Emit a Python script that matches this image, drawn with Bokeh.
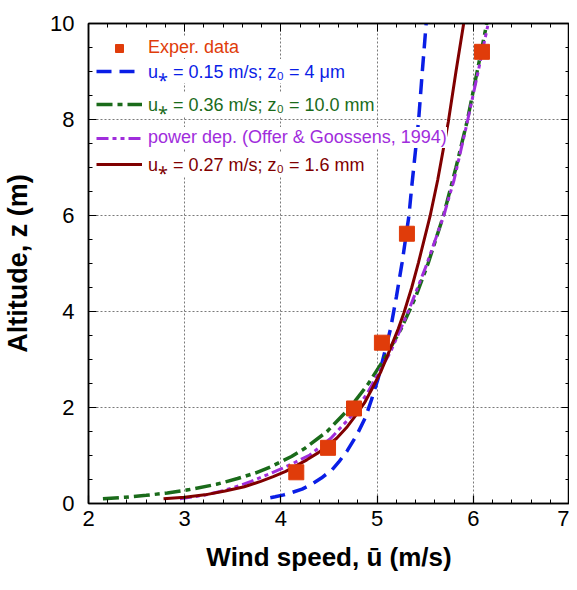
from bokeh.plotting import figure
from bokeh.models import (Legend, LegendItem, LinearAxis, Range1d,
                          SingleIntervalTicker)
from bokeh.embed import file_html
from bokeh.resources import INLINE

# ---- data ----
exp_u = [4.16, 4.49, 4.76, 5.05, 5.31, 6.09]
exp_z = [0.65, 1.16, 1.98, 3.35, 5.62, 9.41]

blue_z = [0.12, 0.14, 0.18, 0.22, 0.30, 0.40, 0.53, 0.70, 0.86, 1.10, 1.43, 1.80,
          2.15, 2.60, 3.00, 3.64, 4.30, 5.02, 5.98, 6.60, 7.95, 9.00, 10.0]
blue_u = [3.89, 3.94, 4.03, 4.10, 4.22, 4.32, 4.42, 4.53, 4.60, 4.69, 4.79, 4.88,
          4.94, 5.01, 5.06, 5.14, 5.20, 5.26, 5.33, 5.36, 5.43, 5.47, 5.51]

green_z = [0.10, 0.13, 0.17, 0.22, 0.29, 0.40, 0.52, 0.64, 0.77, 0.98, 1.15, 1.50,
           2.00, 2.50, 3.00, 3.64, 4.30, 5.00, 6.00, 7.00, 8.00, 9.00, 10.0]
green_u = [2.15, 2.38, 2.60, 2.82, 3.05, 3.33, 3.55, 3.74, 3.90, 4.11, 4.25, 4.48,
           4.72, 4.91, 5.07, 5.25, 5.40, 5.53, 5.69, 5.82, 5.94, 6.04, 6.14]

power_z = [0.10, 0.14, 0.18, 0.25, 0.34, 0.46, 0.60, 0.72, 0.84, 1.01, 1.36,
           1.84, 2.30, 2.74, 3.16, 3.98, 4.95, 5.98, 6.74, 7.88, 8.90, 9.95]
power_u = [2.95, 3.10, 3.22, 3.37, 3.52, 3.69, 3.86, 4.00, 4.13, 4.30, 4.52,
           4.74, 4.90, 5.02, 5.14, 5.32, 5.51, 5.69, 5.80, 5.93, 6.04, 6.15]

brown_z = [0.10, 0.13, 0.18, 0.26, 0.35, 0.46, 0.56, 0.67, 0.80, 0.91, 1.06, 1.20,
           1.36, 1.60, 1.84, 2.10, 2.40, 2.75, 3.09, 3.64, 3.98, 4.50, 5.02, 5.98,
           6.74, 7.95, 9.00, 10.0]
brown_u = [2.78, 3.00, 3.21, 3.42, 3.62, 3.79, 3.92, 4.05, 4.17, 4.27, 4.39, 4.48,
           4.58, 4.69, 4.78, 4.87, 4.95, 5.04, 5.11, 5.22, 5.28, 5.36, 5.43, 5.55,
           5.63, 5.74, 5.82, 5.90]

labels = ["Exper. data",
          "u\u204e = 0.15 m/s; z\u2080 = 4 \u03bcm",
          "u\u204e = 0.36 m/s; z\u2080 = 10.0 mm",
          "power dep. (Offer & Goossens, 1994)",
          "u\u204e = 0.27 m/s; z\u2080 = 1.6 mm"]

EXP_C = "#E03C0A"
BLUE_C = "#0A1EE6"
GREEN_C = "#1A6B1A"
PURPLE_C = "#A02DDC"
BROWN_C = "#800000"
FONT = "Liberation Sans"

p = figure(width=569, height=574,
           x_range=Range1d(2, 7), y_range=Range1d(0, 10),
           output_backend="svg", toolbar_location=None,
           min_border_left=84, min_border_right=0,
           min_border_top=23, min_border_bottom=60)

xt = SingleIntervalTicker(interval=1, num_minor_ticks=5)
yt = SingleIntervalTicker(interval=2, num_minor_ticks=4)

for ax, t in ((p.xaxis[0], xt), (p.yaxis[0], yt)):
    ax.ticker = t
    ax.major_tick_in = 8
    ax.major_tick_out = 0
    ax.minor_tick_in = 4
    ax.minor_tick_out = 0
    ax.axis_line_width = 1.5
    ax.major_tick_line_width = 1.2
    ax.major_label_text_font = FONT
    ax.major_label_text_font_size = "22px"
    ax.major_label_text_color = "black"
    ax.axis_label_text_font = FONT
    ax.axis_label_text_font_style = "bold"
    ax.axis_label_text_color = "black"

p.xaxis.axis_label = "Wind speed, \u016b (m/s)"
p.xaxis.axis_label_text_font_size = "26px"
p.xaxis.major_label_standoff = 7
p.xaxis.axis_label_standoff = 13
p.yaxis.axis_label = "Altitude, z (m)"
p.yaxis.axis_label_text_font_size = "27px"
p.yaxis.major_label_standoff = 14
p.yaxis.axis_label_standoff = 14

for loc, t in (("above", xt), ("right", yt)):
    ax = LinearAxis(ticker=t, major_tick_in=8, major_tick_out=0,
                    minor_tick_in=4, minor_tick_out=0, axis_line_width=1.5,
                    major_label_text_font_size="0px", major_label_standoff=0,
                    axis_label_standoff=0)
    p.add_layout(ax, loc)

p.xgrid.ticker = xt
p.ygrid.ticker = yt
for g in (p.xgrid, p.ygrid):
    g.grid_line_color = "#7a7a7a"
    g.grid_line_dash = "2 2"
    g.grid_line_width = 1

p.outline_line_color = "black"
p.outline_line_width = 1.5

r_blue = p.line(blue_u, blue_z, line_color=BLUE_C, line_width=3.5, line_dash="15 8")
r_green = p.line(green_u, green_z, line_color=GREEN_C, line_width=3.5, line_dash="16 5 5 5")
r_power = p.line(power_u, power_z, line_color=PURPLE_C, line_width=3, line_dash="12 4 4 4 4 4")
r_brown = p.line(brown_u, brown_z, line_color=BROWN_C, line_width=3)
r_exp = p.scatter(exp_u, exp_z, marker="square", size=15, fill_color=EXP_C,
                  line_color=EXP_C)

rows = [(r_exp, labels[0], EXP_C, 445),
        (r_blue, labels[1], BLUE_C, 420),
        (r_green, labels[2], GREEN_C, 387),
        (r_power, labels[3], PURPLE_C, 355),
        (r_brown, labels[4], BROWN_C, 327)]
for r, lab, col, yb in rows:
    leg = Legend(items=[LegendItem(label=lab, renderers=[r])], location=(8, yb),
                 label_text_font=FONT, label_text_font_size="18px",
                 label_text_color=col, glyph_width=46, glyph_height=20,
                 label_height=20, label_standoff=6, padding=3, spacing=0,
                 margin=0, border_line_color=None,
                 background_fill_color="white", background_fill_alpha=1.0)
    p.add_layout(leg)

open("out.html", "w").write(file_html(p, INLINE))
